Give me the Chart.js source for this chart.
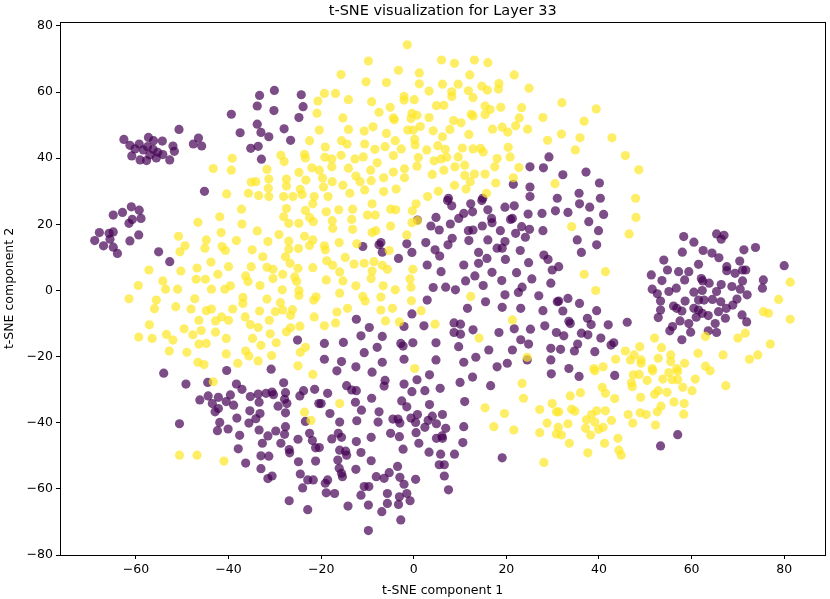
<!DOCTYPE html>
<html>
<head>
<meta charset="utf-8">
<script src="https://cdn.jsdelivr.net/npm/chart.js@4.4.1/dist/chart.umd.min.js"></script>
<style>
  html, body { margin: 0; padding: 0; background: #fff; }
  #wrap { width: 830px; height: 599px; }
</style>
</head>
<body>
<div id="wrap"><canvas id="tsne" width="830" height="599"></canvas></div>
<script>
// t-SNE coordinates, one array per class
const classPurple = [
  [-62.6,45.7],[-61.3,43.9],[-59.3,44.3],[-57.3,46.3],[-56.2,45.3],[-54.3,45.2],[-52.0,43.7],[-51.7,42.1],
  [-50.7,48.7],[-52.7,39.5],[-54.2,41.1],[-55.6,40.1],[-57.7,39.3],[-59.1,39.5],[-60.9,40.7],[-58.4,42.5],
  [-57.0,41.0],[-56.3,42.7],[-60.2,42.8],[-55.3,41.8],[-57.5,43.5],[-47.6,44.3],[-46.5,46.1],[-45.8,43.7],
  [-45.2,30.0],[-39.4,53.3],[-37.5,47.7],[-35.2,43.0],[-33.6,43.6],[-32.9,39.7],[-33.8,50.3],[-33.0,47.8],
  [-31.3,46.5],[-33.8,55.8],[-33.3,59.0],[-30.1,60.5],[-30.2,54.4],[-28.0,48.9],[-26.6,45.4],[-24.8,52.3],
  [-24.3,59.2],[-23.9,55.6],
  [29.2,40.4],[25.1,37.4],[28.0,37.1],[21.5,32.1],[25.1,31.3],[25.1,28.4],[7.5,27.9],[14.9,27.9],[31.0,27.9],
  [32.2,35.0],[37.2,35.8],[40.1,32.5],[35.7,29.4],[40.3,27.9],
  [-64.9,22.8],[-62.9,23.6],[-61.0,25.3],[-59.3,24.3],[-58.9,21.8],[-61.5,20.3],[-60.8,21.5],[-67.9,17.5],
  [-68.9,15.1],[-67.0,13.5],[-65.6,15.5],[-64.9,17.7],[-65.8,17.3],[-64.9,13.1],[-64.0,11.2],[-61.3,15.0],
  [-59.4,16.8],[-55.1,11.7],[-52.7,8.7],[-25.1,-15.0],[-30.8,-23.8],
  [7.3,27.2],[8.2,25.6],[12.3,26.2],[14.7,27.2],[16.0,24.4],[19.7,25.2],[21.7,25.6],[24.7,23.1],[27.7,23.3],
  [30.6,24.1],[12.7,23.8],[10.8,23.3],[9.7,21.8],[4.8,22.1],[0.8,21.3],[3.7,19.5],[5.5,18.3],[7.9,20.1],
  [11.8,18.1],[12.8,18.3],[14.8,19.5],[16.9,20.5],[16.8,21.8],[20.9,21.5],[21.3,21.8],[23.3,19.3],[25.0,18.5],
  [27.9,18.1],[18.7,18.1],[22.0,17.3],[24.1,16.1],[16.0,15.3],[19.7,14.8],[11.9,15.1],[8.3,15.8],[7.4,13.8],
  [2.6,14.5],[-1.5,14.1],[-7.1,14.5],[-7.5,13.8],[-11.0,13.3],[-6.8,11.6],[-0.4,11.5],[-3.3,9.7],[4.6,12.3],
  [5.6,10.4],[14.0,11.5],[18.0,12.8],[19.1,12.8],[23.0,12.1],[19.8,9.4],[15.8,9.7],[14.0,8.2],[10.8,7.7],
  [2.9,7.7],[5.9,5.7],[24.8,8.4],[28.1,10.7],[29.0,9.4],[29.9,6.2],[16.9,5.5],[22.2,5.4],[13.2,4.4],[11.2,2.9],
  [25.5,3.5],[4.2,0.9],[6.9,1.0],[9.0,0.2],[15.0,1.5],[19.0,3.0],[23.4,1.0],[22.6,-0.6],[19.7,-1.3],[27.0,-1.6],
  [29.6,2.2],[2.9,-2.9],[15.5,-3.4],[11.6,-5.4],[19.1,-5.1],[23.1,-5.4],[27.9,-6.1],[31.0,-3.4],[-0.4,-7.1],
  [-12.4,-8.7],[-9.6,-11.2],[-2.1,-10.9],[2.2,-10.7],[8.7,-9.8],[10.1,-10.2],[8.7,-12.7],[10.1,-13.2],
  [12.8,-11.9],[18.4,-12.7],[21.7,-11.6],[25.2,-11.7],[28.3,-10.7],[30.8,-12.7],[-19.3,-16.0],[-15.2,-15.7],
  [-11.4,-13.7],[-6.8,-13.9],[-7.9,-17.2],[-2.8,-16.0],[-2.3,-16.8],[-0.2,-15.8],[4.8,-15.8],[9.7,-17.0],
  [16.2,-18.0],[21.3,-18.0],[23.1,-14.9],[24.8,-16.2],[29.6,-17.5],[-10.7,-18.8],[-19.3,-20.8],[-15.6,-21.5],
  [-12.5,-23.1],[-6.8,-21.7],[-2.1,-20.8],[4.8,-21.0],[10.8,-21.7],[13.4,-20.2],[18.0,-23.1],[20.2,-22.0],
  [24.5,-21.0],[29.6,-21.0],
  [35.8,26.2],[38.0,25.2],[33.3,23.6],[41.0,23.0],[37.8,20.8],[39.9,18.1],[35.3,15.3],[39.5,13.8],[36.2,11.5],
  [31.3,7.2],
  [58.3,16.3],[65.4,17.1],[67.0,16.7],[66.4,15.5],[60.5,14.6],[62.5,12.1],[64.4,11.3],[58.0,11.6],[65.9,9.9],
  [71.3,12.3],[73.8,13.0],[54.0,9.2],[61.5,7.9],[67.6,7.2],[70.4,8.9],[80.0,7.5],[54.8,6.2],[57.2,5.7],
  [59.4,5.7],[67.6,6.0],[69.4,5.2],[71.0,6.2],[71.7,6.2],[51.3,4.7],[53.6,3.0],[58.5,3.2],[62.1,3.6],[62.4,2.9],
  [63.8,2.2],[66.4,1.8],[68.7,1.2],[71.0,2.9],[75.5,3.2],[75.3,0.7],[70.5,0.4],[51.5,0.4],[52.6,-1.0],
  [55.1,-0.3],[56.7,0.7],[60.5,-0.5],[62.3,0.0],[65.4,-0.3],[72.0,-1.3],[53.3,-3.2],[56.1,-4.7],[58.6,-3.2],
  [61.5,-2.9],[62.7,-2.9],[64.5,-2.7],[66.3,-3.4],[69.8,-2.6],[68.9,-4.4],[67.5,-5.4],[65.8,-6.4],[56.8,-5.4],
  [57.9,-6.2],[60.5,-5.4],[61.5,-5.9],[62.3,-6.9],[53.3,-5.9],[52.8,-8.2],[57.5,-9.2],[59.4,-10.0],[61.0,-8.1],
  [63.6,-7.6],[67.3,-8.4],[70.9,-7.4],[71.9,-9.5],[65.1,-10.0],[55.9,-10.9],[55.3,-12.2],[59.8,-12.6],
  [63.6,-12.2],[65.4,-12.7],[57.9,-14.9],
  [33.3,-2.4],[31.3,-3.2],[35.8,-3.9],[32.2,-6.2],[39.5,-6.1],[37.5,-8.4],[33.5,-9.3],[33.8,-10.0],[38.3,-10.3],
  [42.0,-10.4],[46.1,-9.6],[36.2,-12.9],[37.6,-13.4],[32.4,-13.7],[40.4,-14.4],[35.4,-16.2],[43.2,-15.8],
  [42.6,-16.5],[31.7,-17.8],[34.7,-18.3],[39.1,-18.5],[33.5,-23.6],
  [-54.0,-25.0],[-49.2,-28.3],[-44.5,-27.8],[-40.4,-24.2],[-46.2,-33.1],[-44.4,-31.9],[-42.2,-32.3],
  [-43.5,-34.2],[-42.9,-36.7],[-42.2,-35.7],[-40.5,-33.6],[-39.6,-31.6],[-38.9,-34.7],[-38.3,-28.3],
  [-37.1,-29.9],[-50.6,-40.3],[-41.9,-39.9],[-42.4,-42.4],[-40.1,-41.9],[-38.2,-38.6],[-37.6,-43.8],
  [-37.9,-47.9],[-36.3,-52.2],[-35.4,-36.4],[-35.6,-40.1],[-35.3,-32.1],[-33.6,-31.3],[-33.4,-33.8],
  [-33.2,-37.2],[-34.1,-38.8],[-33.4,-42.2],[-31.9,-31.1],[-30.6,-30.7],[-30.3,-31.5],[-28.1,-27.9],
  [-27.7,-30.9],[-27.9,-32.9],[-27.4,-34.2],[-29.3,-35.0],[-27.7,-37.0],[-31.5,-44.0],[-32.7,-46.2],
  [-29.8,-42.5],[-27.7,-41.2],[-27.9,-43.5],[-28.7,-46.2],[-33.0,-50.0],[-31.3,-50.1],[-33.0,-53.9],
  [-31.5,-56.9],[-30.6,-56.1],[-26.9,-48.1],[-26.8,-49.1],[-25.0,-45.0],[-24.9,-51.8],[-24.5,-55.5],
  [-24.0,-59.7],[-22.9,-57.3],[-21.7,-57.3],[-22.5,-43.2],[-21.9,-45.4],[-21.2,-47.6],[-21.2,-51.6],
  [-23.4,-39.6],[-24.6,-31.9],[-23.8,-30.3],[-21.4,-29.9],[-20.5,-34.2],[-26.9,-63.6],[-22.9,-66.3],
  [-16.6,-24.3],[-9.0,-24.7],[-6.2,-27.2],[-6.4,-28.9],[-14.5,-28.8],[-13.4,-30.1],[-12.4,-30.3],[-18.6,-31.1],
  [-20.0,-34.2],[-18.1,-37.2],[-12.6,-33.8],[-11.3,-36.2],[-9.1,-32.6],[-7.5,-36.7],[-7.7,-39.8],[-12.3,-39.4],
  [-16.0,-39.8],[-16.3,-43.2],[-15.6,-44.4],[-17.7,-44.9],[-12.4,-45.7],[-9.2,-44.4],[-5.0,-43.2],[-3.1,-44.2],
  [-4.5,-38.9],[-3.4,-38.9],[-3.0,-40.1],[-2.6,-33.4],[-1.5,-35.2],[-2.1,-28.3],[-0.4,-30.6],[0.7,-27.0],
  [2.4,-30.3],[3.4,-25.5],[5.7,-29.6],[3.4,-34.5],[0.8,-37.5],[-0.6,-38.6],[0.4,-39.9],[0.5,-43.0],[2.4,-41.4],
  [3.1,-39.3],[4.0,-38.0],[4.9,-40.3],[6.2,-37.5],[6.9,-41.7],[4.9,-44.7],[6.1,-44.0],[6.2,-44.7],[1.1,-46.2],
  [-2.3,-48.0],[3.3,-48.9],[5.8,-49.5],[8.8,-49.5],[5.5,-52.7],[6.6,-52.7],[6.6,-56.1],[7.5,-60.3],[0.4,-57.1],
  [-3.5,-53.2],[-3.0,-56.5],[-2.1,-58.6],[-5.3,-55.1],[-6.4,-56.8],[-8.1,-56.3],[-1.5,-61.4],[-0.8,-63.6],
  [-3.1,-62.4],[-3.3,-64.7],[-5.7,-61.4],[-5.7,-64.4],[-6.9,-66.9],[-2.8,-69.4],[-9.8,-64.9],[-9.8,-72.6],
  [-14.2,-65.2],[-10.7,-59.3],[-9.7,-59.3],[-11.4,-61.9],[-17.1,-61.4],[-18.9,-61.2],[-19.1,-58.3],[-18.6,-57.3],
  [-15.4,-56.3],[-15.6,-55.3],[-16.1,-53.8],[-12.5,-54.1],[-16.4,-51.3],[-11.4,-49.0],[-9.2,-51.5],[-16.0,-48.3],
  [-14.7,-48.6],[-14.5,-49.8],[-20.4,-47.5],[10.0,-27.8],[12.7,-26.2],[16.6,-28.8],[11.0,-33.6],[10.8,-41.2],
  [10.6,-46.0],[19.1,-50.6],[29.7,-25.2],
  [35.7,-26.0],[43.4,-25.7],[57.0,-43.6],[53.3,-47.0]
];

const classYellow = [
  [-43.3,36.9],[-39.2,40.0],[-39.4,36.4],[-40.4,29.2],[-35.7,29.4],[-35.1,32.8],[-34.1,32.9],[-33.5,28.7],
  [-31.7,36.6],[-31.3,33.7],[-31.4,30.9],[-31.3,28.4],[-28.7,40.9],[-28.0,39.0],[-27.5,33.7],[-27.5,31.6],
  [-28.1,28.4],[-26.1,28.4],[-24.8,35.7],[-23.6,41.2],[-23.4,40.1],[-22.5,45.3],[-22.0,37.1],[-23.3,33.4],
  [-24.5,30.6],[-24.1,29.0],[-21.5,28.4],[-20.7,57.3],[-20.9,53.6],[-20.4,48.5],[-20.4,36.4],
  [-1.4,74.3],[-9.8,69.4],[-15.7,65.3],[-10.3,63.1],[-3.3,66.6],[-5.9,62.9],[1.2,65.8],[1.2,62.5],[6.0,69.7],
  [8.8,68.7],[13.1,69.7],[16.0,68.9],[12.1,65.2],[21.7,65.2],[6.2,62.4],[9.6,62.4],[18.4,62.6],[24.9,61.2],
  [-19.3,59.6],[-16.9,59.6],[-14.1,57.7],[-9.1,57.1],[-2.1,58.7],[-2.1,57.6],[0.1,57.7],[3.3,60.3],[8.2,60.1],
  [8.2,58.7],[11.8,60.4],[12.8,58.3],[14.7,61.8],[15.9,60.6],[18.3,60.9],[-5.1,55.4],[-7.5,53.9],[4.9,55.9],
  [6.5,56.0],[15.4,55.8],[16.5,54.7],[18.8,55.4],[23.3,55.3],[-15.3,52.2],[-4.4,52.2],[-4.2,51.6],[-0.4,53.6],
  [0.7,53.0],[-0.6,52.0],[3.3,52.3],[8.6,51.4],[10.2,50.7],[12.4,53.3],[12.8,52.8],[15.4,53.2],[22.8,52.2],
  [27.9,52.3],[-14.1,48.7],[-10.7,48.2],[-8.8,49.5],[-5.9,47.5],[-1.3,48.5],[-0.1,48.5],[1.4,49.6],
  [4.2,48.3],[7.8,48.7],[11.9,47.2],[17.0,48.8],[19.1,49.4],[20.3,47.9],[22.0,49.8],[24.6,48.8],[28.9,45.4],
  [-19.1,43.4],[-15.6,45.3],[-14.4,44.3],[-10.6,44.3],[-8.4,42.7],[-6.2,43.5],[-4.0,45.3],[-2.7,42.8],
  [0.2,45.7],[0.3,44.0],[2.8,42.5],[5.2,43.8],[6.2,46.5],[6.8,42.7],[10.5,43.1],[12.8,42.8],[14.4,43.0],
  [15.0,41.9],[20.4,43.3],[-19.2,40.3],[-17.7,39.8],[-15.7,40.9],[-12.7,39.8],[-10.9,40.4],[-4.4,40.8],
  [1.0,40.2],[4.4,39.2],[5.9,39.8],[7.1,40.3],[9.6,40.4],[18.0,39.9],[20.8,40.4],[-17.7,37.4],[-14.1,37.0],
  [-7.9,38.6],[-9.3,36.4],[-4.4,35.8],[-2.0,36.8],[-2.0,34.1],[0.7,37.6],[4.0,35.1],[6.5,36.4],[8.9,37.4],
  [11.0,37.9],[11.0,34.8],[13.1,35.2],[15.4,35.2],[17.5,37.4],[22.7,37.2],[-19.7,34.0],
  [-17.6,32.9],[-12.5,34.6],[-11.6,32.9],[-9.2,33.2],[-6.5,34.1],[-19.5,31.3],[-15.3,31.8],[-10.6,30.4],
  [-3.8,30.7],[-6.5,29.9],[-13.8,29.4],[-18.5,28.4],[5.3,30.0],[8.8,31.8],[11.3,30.7],[12.2,32.9],[17.7,32.5],
  [15.7,29.4],[21.5,34.1],[30.5,32.3],[3.0,28.4],
  [32.0,56.8],[39.4,54.9],[36.8,51.2],[31.9,47.3],[35.9,46.2],[42.8,46.2],[34.9,42.5],[45.7,40.8],[48.6,36.5],
  [47.9,27.9],
  [-37.2,24.6],[-41.9,22.3],[-46.6,20.6],[-37.1,20.1],[-41.6,17.5],[-33.8,18.0],[-29.1,16.9],[-27.5,24.8],
  [-28.1,22.3],[-27.0,20.3],[-24.8,20.3],[-23.4,24.2],[-22.5,22.1],[-21.8,26.2],[-21.7,20.8],[-50.8,16.4],
  [-49.4,13.5],[-50.5,11.7],[-44.8,15.3],[-45.1,12.8],[-41.4,13.3],[-40.7,12.1],[-38.3,15.1],[-34.9,12.3],
  [-31.5,14.8],[-27.0,14.9],[-27.0,12.5],[-24.9,12.7],[-23.6,16.4],[-22.5,13.6],[-21.8,15.3],[-32.6,10.2],
  [-27.7,10.2],[-26.7,8.2],[-21.8,6.9],[-57.2,6.2],[-50.3,5.9],[-46.8,6.8],[-43.8,8.6],[-40.0,7.2],[-35.1,7.2],
  [-31.7,7.0],[-30.4,6.4],[-28.3,4.9],[-25.0,6.7],[-25.7,4.1],[-25.3,2.7],[-36.3,4.4],[-35.8,2.7],[-30.4,3.6],
  [-42.3,4.9],[-47.0,3.4],[-45.0,3.4],[-54.2,2.9],[-59.5,1.5],[-53.6,0.4],[-51.0,0.4],[-43.7,0.4],
  [-40.8,0.4],[-39.6,1.4],[-33.2,1.5],[-28.4,0.2],[-24.8,0.0],[-24.8,-1.5],[-21.6,-2.9],[-21.1,-1.9],
  [-61.5,-2.5],[-55.6,-2.9],[-56.0,-5.5],[-51.4,-4.9],[-47.3,-2.5],[-48.1,-5.6],[-44.8,-6.1],[-43.7,-5.6],
  [-39.1,-5.6],[-36.9,-2.1],[-36.9,-3.9],[-31.7,-2.6],[-33.3,-6.2],[-29.9,-6.4],[-28.8,-3.7],[-28.3,-5.9],
  [-26.2,-5.8],[-26.6,-7.5],[-21.5,-8.0],[-36.4,-8.0],[-31.2,-9.0],[-35.3,-10.3],[-33.6,-11.2],[-46.4,-9.0],
  [-41.5,-8.0],[-40.0,-9.0],[-42.8,-9.2],[-57.1,-10.4],[-49.6,-11.6],[-47.7,-13.4],[-45.9,-12.1],[-42.8,-12.6],
  [-59.4,-14.1],[-56.5,-14.5],[-53.4,-13.3],[-52.0,-15.0],[-46.4,-16.2],[-44.8,-16.0],[-40.5,-14.5],
  [-34.8,-14.5],[-31.0,-13.1],[-29.7,-15.8],[-27.5,-12.5],[-26.6,-11.3],[-24.6,-10.8],[-33.0,-16.6],
  [-52.8,-18.3],[-49.0,-18.7],[-40.5,-19.2],[-36.3,-18.3],[-35.6,-19.8],[-30.7,-19.7],[-24.5,-18.7],
  [-23.4,-17.2],[-46.6,-21.7],[-45.3,-22.4],[-38.0,-22.0],[-33.6,-21.3],[-25.0,-22.8],
  [-18.9,23.8],[-16.2,24.4],[-13.2,24.6],[-13.4,21.5],[-17.6,21.1],[-17.5,18.8],[-13.2,18.5],[-10.0,22.8],
  [-8.3,22.8],[-9.0,26.2],[-5.0,24.6],[-3.9,24.4],[-5.0,19.5],[-9.0,17.5],[-8.2,18.1],[-0.3,24.1],[0.5,26.2],
  [-0.4,20.5],[0.8,21.1],[-1.5,16.8],[-16.1,14.5],[-19.3,13.5],[-19.1,12.3],[-12.3,14.1],[-5.3,12.1],
  [-18.8,9.0],[-17.5,7.6],[-14.8,10.0],[-12.9,8.0],[-10.7,8.2],[-8.6,8.7],[-6.8,7.6],[-5.7,6.4],[-9.0,5.9],
  [-16.0,5.6],[-0.2,6.4],[-18.9,3.2],[-15.3,2.9],[-9.2,3.6],[-0.8,3.5],[-12.5,1.4],[-6.6,1.4],[-4.0,0.2],
  [-0.6,1.0],[-16.0,-0.8],[-11.0,-1.8],[-10.5,-3.2],[-7.1,-2.0],[-0.5,-3.1],[12.3,-1.8],[-14.3,-5.4],
  [-16.6,-6.5],[-7.1,-5.9],[-4.6,-5.4],[1.6,-6.1],[-19.3,-10.7],[-16.9,-9.8],[-6.1,-9.2],[-3.1,-9.5],
  [4.6,-10.2],[21.3,-8.9],[14.1,-14.4],[24.5,-20.2],[0.2,-23.6],
  [48.0,22.1],[34.1,19.3],[46.5,17.1],[36.8,4.9],[41.4,5.7],[39.3,0.0],[81.3,2.5],[78.8,-2.7],[75.5,-6.4],
  [76.6,-6.9],[81.3,-8.7],[52.0,-14.4],[63.0,-13.9],[70.0,-14.4],[71.6,-12.9],[77.0,-16.2],[53.5,-17.3],
  [48.8,-17.0],[45.7,-18.3],[47.6,-19.5],[46.8,-21.0],[49.1,-21.0],[49.1,-22.0],[43.6,-20.8],[52.8,-20.5],
  [55.5,-19.5],[55.5,-21.5],[58.5,-22.0],[61.4,-19.0],[66.8,-19.5],[72.5,-20.8],[74.3,-19.5],[63.0,-22.9],
  [40.9,-23.1],[38.9,-23.6],[51.5,-23.6],[56.8,-23.6],
  [-43.3,-27.6],[-50.6,-49.8],[-46.8,-49.8],[-41.0,-51.6],[-21.8,-25.4],[-23.6,-36.8],[-22.2,-39.3],
  [-16.0,-34.2],[15.4,-35.5],[17.3,-41.2],[19.6,-37.2],[21.6,-42.2],[23.4,-28.1],[23.7,-32.6],[27.2,-36.0],
  [29.9,-34.2],[30.8,-36.7],[28.8,-40.1],[27.2,-43.0],[30.8,-43.4],[31.2,-41.4],[28.1,-52.0],
  [39.1,-24.3],[47.4,-25.5],[48.7,-25.4],[51.6,-24.3],[50.4,-27.2],[47.0,-27.9],[47.2,-29.1],[53.8,-26.8],
  [55.1,-24.8],[57.0,-24.5],[55.8,-27.0],[57.0,-27.0],[60.8,-26.8],[64.0,-24.3],[67.4,-28.8],[58.1,-29.3],
  [60.1,-30.3],[52.8,-30.3],[52.0,-31.4],[54.7,-30.8],[56.2,-33.7],[58.4,-34.2],[58.3,-37.4],[53.4,-35.0],
  [52.6,-36.7],[49.0,-32.3],[46.3,-37.5],[48.9,-37.0],[50.2,-37.5],[47.3,-40.1],[52.2,-40.7],[43.4,-32.7],
  [40.7,-29.3],[41.4,-31.1],[36.0,-30.9],[33.8,-31.9],[34.1,-35.9],[34.8,-36.5],[31.3,-36.7],[38.4,-37.5],
  [39.5,-36.4],[41.4,-36.4],[37.3,-39.1],[39.1,-39.8],[42.7,-39.3],[33.3,-40.3],[31.9,-43.7],[37.1,-41.7],
  [38.2,-43.7],[39.9,-42.0],[40.9,-41.4],[33.6,-46.2],[41.2,-46.2],[44.1,-44.7],[37.6,-49.1],[44.3,-48.3],
  [44.8,-49.8]
];

const xTickValues = [-60, -40, -20, 0, 20, 40, 60, 80];
const yTickValues = [-80, -60, -40, -20, 0, 20, 40, 60, 80];
const xRange = [-76.4, 88.9];
const yRange = [-80.0, 81.2];

const titleText = "t-SNE visualization for Layer 33";
const xLabel = "t-SNE component 1";
const yLabel = "t-SNE component 2";

const FONT = "'DejaVu Sans', sans-serif";

function toPoints(list) {
  return list.map(([x, y]) => ({ x: x, y: y }));
}

function mplLabel(value) {
  return value < 0 ? "\u2212" + Math.abs(value) : String(value);
}

// matplotlib style: box around the axes and a title above it
const frameAndTitle = {
  id: "frameAndTitle",
  afterDraw(chart) {
    const { ctx, chartArea } = chart;
    ctx.save();
    ctx.strokeStyle = "#000";
    ctx.lineWidth = 1;
    ctx.strokeRect(
      Math.round(chartArea.left) + 0.5,
      Math.round(chartArea.top) + 0.5,
      Math.round(chartArea.right - chartArea.left),
      Math.round(chartArea.bottom - chartArea.top)
    );
    ctx.fillStyle = "#000";
    ctx.font = "14.5px " + FONT;
    ctx.textAlign = "center";
    ctx.textBaseline = "middle";
    ctx.fillText(titleText, (chartArea.left + chartArea.right) / 2, 11);
    ctx.restore();
  },
};

const tickStyle = {
  display: true,
  drawOnChartArea: false,
  drawTicks: true,
  tickLength: 4,
  tickColor: "#000",
};

new Chart(document.getElementById("tsne"), {
  type: "scatter",
  data: {
    datasets: [
      {
        label: "1",
        data: toPoints(classYellow),
        backgroundColor: "rgba(253, 231, 37, 0.7)",
        borderWidth: 0,
        pointRadius: 4.6,
        pointHoverRadius: 4.6,
      },
      {
        label: "0",
        data: toPoints(classPurple),
        backgroundColor: "rgba(68, 1, 84, 0.7)",
        borderWidth: 0,
        pointRadius: 4.6,
        pointHoverRadius: 4.6,
      },
    ],
  },
  options: {
    responsive: false,
    animation: false,
    layout: { padding: { top: 22, right: 3, bottom: 0, left: 0 } },
    plugins: {
      legend: { display: false },
      tooltip: { enabled: false },
      title: { display: false },
    },
    scales: {
      x: {
        type: "linear",
        min: xRange[0],
        max: xRange[1],
        afterBuildTicks: (scale) => {
          scale.ticks = xTickValues.map((v) => ({ value: v }));
        },
        afterFit: (scale) => {
          scale.height = 44;
        },
        grid: tickStyle,
        border: { display: false },
        ticks: {
          color: "#000",
          font: { family: FONT, size: 12.5 },
          padding: 3,
          maxRotation: 0,
          callback: (value) => mplLabel(value),
        },
        title: {
          display: true,
          text: xLabel,
          color: "#000",
          font: { family: FONT, size: 12.5 },
          padding: { top: 0, bottom: 1 },
        },
      },
      y: {
        type: "linear",
        min: yRange[0],
        max: yRange[1],
        afterBuildTicks: (scale) => {
          scale.ticks = yTickValues.map((v) => ({ value: v }));
        },
        afterFit: (scale) => {
          scale.width = 60;
        },
        grid: tickStyle,
        border: { display: false },
        ticks: {
          color: "#000",
          font: { family: FONT, size: 12.5 },
          padding: 3,
          callback: (value) => mplLabel(value),
        },
        title: {
          display: true,
          text: yLabel,
          color: "#000",
          font: { family: FONT, size: 12.5 },
          padding: { top: 2, bottom: 0 },
        },
      },
    },
  },
  plugins: [frameAndTitle],
});
</script>
</body>
</html>
